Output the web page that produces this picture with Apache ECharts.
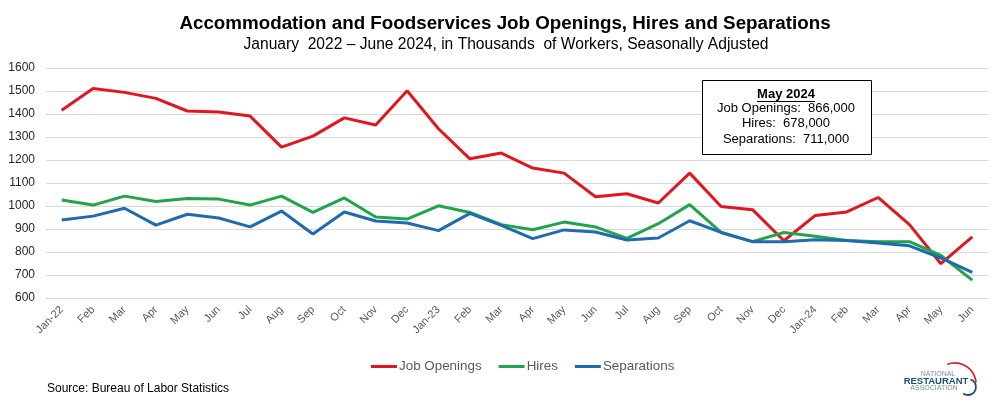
<!DOCTYPE html>
<html><head><meta charset="utf-8">
<script src="https://cdn.jsdelivr.net/npm/echarts@6/dist/echarts.min.js"></script>
<style>html,body{margin:0;padding:0;background:#fff}#c{width:1003px;height:410px}</style>
</head><body><div id="c"></div>
<script>
const categories = ["Jan-22","Feb","Mar","Apr","May","Jun","Jul","Aug","Sep","Oct","Nov","Dec",
  "Jan-23","Feb","Mar","Apr","May","Jun","Jul","Aug","Sep","Oct","Nov","Dec",
  "Jan-24","Feb","Mar","Apr","May","Jun"];
const jobOpenings = [1416,1511,1494,1468,1413,1409,1391,1256,1304,1383,1352,1501,
  1336,1205,1230,1165,1143,1040,1053,1013,1143,998,984,849,
  959,974,1037,919,749,866];
const hires = [1026,1004,1043,1020,1033,1030,1004,1043,972,1035,952,943,
  1001,972,919,897,930,909,859,923,1006,885,845,885,
  868,850,845,845,785,678];
const separations = [939,956,990,917,964,948,909,978,878,974,935,926,
  893,968,916,858,896,887,852,861,936,885,845,845,
  853,850,839,827,774,711];
const yTicks = [600,1600,100];
const boxLines = ["May 2024","Job Openings:  866,000","Hires:  678,000","Separations:  711,000"];

const chart = echarts.init(document.getElementById('c'));
const F = '"Liberation Sans", Arial, sans-serif';
const colors = ['#E2161E','#20A54A','#1E6BB2'];
function mk(name, data, c){
  return {name, type:'line', data, symbol:'none', smooth:false,
    lineStyle:{width:3, color:c}, itemStyle:{color:c}, z: 3};
}
chart.setOption({
  animation:false,
  color: colors,
  title:[{text:'Accommodation and Foodservices Job Openings, Hires and Separations',
      left:500, top:9, textAlign:'center',
      textStyle:{fontFamily:F, fontSize:18.8, fontWeight:'bold', color:'#000'}},
    {text:'January  2022 \u2013 June 2024, in Thousands  of Workers, Seasonally Adjusted',
      left:501, top:32, textAlign:'center',
      textStyle:{fontFamily:F, fontSize:15.6, fontWeight:'normal', color:'#000'}}],
  grid:{left:46, right:15, top:68, bottom:112, containLabel:false},
  legend:{top:355, left:366, itemWidth:26, itemHeight:3, itemGap:17,
    icon:'rect', textStyle:{fontFamily:F, fontSize:13.4, color:'#595959', padding:[0,0,0,-3]},
    data:['Job Openings','Hires','Separations']},
  xAxis:{type:'category', data:categories, boundaryGap:true,
    axisLine:{show:false}, axisTick:{show:false},
    axisLabel:{rotate:45, interval:0, fontFamily:F, fontSize:11, color:'#595959', margin:10}},
  yAxis:{type:'value', min:yTicks[0], max:yTicks[1], interval:yTicks[2],
    axisLine:{show:false}, axisTick:{show:false},
    splitLine:{lineStyle:{color:'#D9D9D9', width:1}},
    axisLabel:{fontFamily:F, fontSize:12, color:'#262626', margin:11, formatter:(v)=>String(v)}},
  series:[mk('Job Openings', jobOpenings, colors[0]), mk('Hires', hires, colors[1]), mk('Separations', separations, colors[2])],
  graphic:[
    {type:'rect', shape:{x:702.5, y:80.5, width:169, height:74}, style:{fill:'#fff', stroke:'#000', lineWidth:1}, z:10},
    {type:'text', x:786, y:94.5, style:{text:boxLines[0], fontFamily:F, fontSize:13, fontWeight:'bold', fill:'#000', textAlign:'center', textVerticalAlign:'middle'}, z:11},
    {type:'line', shape:{x1:757, y1:101.5, x2:815, y2:101.5}, style:{stroke:'#000', lineWidth:1}, z:11},
    {type:'text', x:786, y:108, style:{text:boxLines[1], fontFamily:F, fontSize:13, fill:'#000', textAlign:'center', textVerticalAlign:'middle'}, z:11},
    {type:'text', x:786, y:123.5, style:{text:boxLines[2], fontFamily:F, fontSize:13, fill:'#000', textAlign:'center', textVerticalAlign:'middle'}, z:11},
    {type:'text', x:786, y:139.5, style:{text:boxLines[3], fontFamily:F, fontSize:13, fill:'#000', textAlign:'center', textVerticalAlign:'middle'}, z:11},
    {type:'text', x:47, y:389, style:{text:'Source: Bureau of Labor Statistics', fontFamily:F, fontSize:12, fill:'#000', textVerticalAlign:'middle'}},
    {type:'text', x:938, y:374, style:{text:'NATIONAL', fontFamily:F, fontSize:7, fill:'#7d8fa3', textAlign:'center', textVerticalAlign:'middle'}},
    {type:'text', x:936, y:381, style:{text:'RESTAURANT', fontFamily:F, fontSize:9.5, fontWeight:'bold', fill:'#1d4f7c', textAlign:'center', textVerticalAlign:'middle'}},
    {type:'text', x:934, y:388, style:{text:'ASSOCIATION', fontFamily:F, fontSize:7, fill:'#7d8fa3', textAlign:'center', textVerticalAlign:'middle'}},
    {type:'arc', shape:{cx:955, cy:384, r:21, startAngle:-Math.PI*0.62, endAngle:-Math.PI*0.02}, style:{stroke:'#d9232e', lineWidth:1.8, fill:null}},
    {type:'arc', shape:{cx:968, cy:387, r:8, startAngle:-Math.PI*0.4, endAngle:Math.PI*0.7}, style:{stroke:'#1d4f7c', lineWidth:1.8, fill:null}}
  ]
});
</script></body></html>
